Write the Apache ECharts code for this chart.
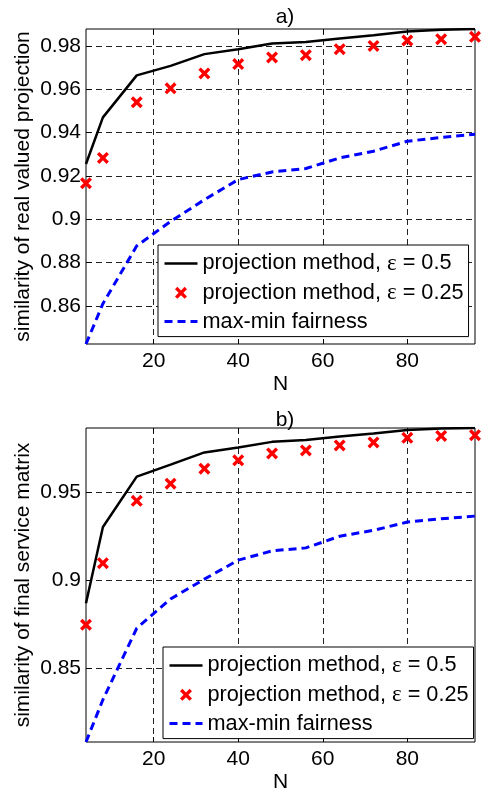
<!DOCTYPE html>
<html>
<head>
<meta charset="utf-8">
<script src="https://cdn.jsdelivr.net/npm/echarts@6/dist/echarts.min.js"></script>
<style>
  html, body { margin: 0; background: #fff; }
  #chart { width: 482px; height: 794px; }
</style>
</head>
<body>
<div id="chart"></div>
<script>
// N axis
var nValues = [4, 8, 16, 24, 32, 40, 48, 56, 64, 72, 80, 88, 96];
var xTicks = [20, 40, 60, 80];

// a) similarity of real valued projection
var projA05  = [0.9255, 0.9470, 0.9664, 0.9708, 0.9762, 0.9785, 0.9811, 0.9818, 0.9834, 0.9849, 0.9866, 0.9874, 0.9878];
var projA025 = [0.9166, 0.9283, 0.9540, 0.9604, 0.9673, 0.9716, 0.9747, 0.9757, 0.9785, 0.9800, 0.9825, 0.9831, 0.9842];
var fairA    = [0.8424, 0.8610, 0.8877, 0.8990, 0.9090, 0.9183, 0.9218, 0.9234, 0.9283, 0.9314, 0.9360, 0.9377, 0.9392];
var yTicksA  = [0.86, 0.88, 0.9, 0.92, 0.94, 0.96, 0.98];

// b) similarity of final service matrix
var projB05  = [0.8870, 0.9304, 0.9591, 0.9659, 0.9729, 0.9757, 0.9789, 0.9800, 0.9820, 0.9837, 0.9857, 0.9865, 0.9868];
var projB025 = [0.8747, 0.9098, 0.9453, 0.9551, 0.9636, 0.9684, 0.9723, 0.9740, 0.9769, 0.9786, 0.9812, 0.9823, 0.9827];
var fairB    = [0.8079, 0.8320, 0.8727, 0.8894, 0.9007, 0.9115, 0.9168, 0.9185, 0.9251, 0.9285, 0.9332, 0.9351, 0.9366];
var yTicksB  = [0.85, 0.9, 0.95];

var seriesNames = ['projection method, ε = 0.5', 'projection method, ε = 0.25', 'max-min fairness'];
var titles = ['a)', 'b)'];
var yNames = ['similarity of real valued projection', 'similarity of final service matrix'];

var FONT = 'Liberation Sans';
var FS = 21;
var crossPath = 'path://M0,2L2,0L5,3L8,0L10,2L7,5L10,8L8,10L5,7L2,10L0,8L3,5Z';

var myChart = echarts.init(document.getElementById('chart'));

function pairs(ys) {
  return nValues.map(function (n, i) { return [n, ys[i]]; });
}

var grids = [
  { left: 86, top: 29, width: 389, height: 315 },
  { left: 86, top: 428, width: 389, height: 316 }
];

var gridOpt = grids.map(function (g) {
  return { left: g.left, top: g.top, width: g.width, height: g.height,
    show: true, borderColor: '#000', borderWidth: 1, backgroundColor: '#fff' };
});

var xAxes = [], yAxes = [];
[yTicksA, yTicksB].forEach(function (yt, gi) {
  xAxes.push({
    type: 'value', gridIndex: gi, min: 4, max: 96,
    name: 'N', nameLocation: 'middle', nameGap: 30,
    nameTextStyle: { fontFamily: FONT, fontSize: FS, color: '#000' },
    axisLine: { show: false },
    axisTick: { inside: true, length: 5, customValues: xTicks, lineStyle: { color: '#000' } },
    axisLabel: { customValues: xTicks, margin: 7, fontFamily: FONT, fontSize: FS, color: '#000' },
    splitLine: { show: true, lineStyle: { color: '#222', type: [6, 4], width: 1 } }
  });
  xAxes.push({
    type: 'value', gridIndex: gi, min: 4, max: 96, position: 'top',
    axisLine: { show: false },
    axisTick: { inside: true, length: 5, customValues: xTicks, lineStyle: { color: '#000' } },
    axisLabel: { show: false }, splitLine: { show: false }
  });
  yAxes.push({
    type: 'value', gridIndex: gi, min: 'dataMin', max: 'dataMax',
    name: yNames[gi], nameLocation: 'middle', nameGap: 52, nameMoveOverlap: false,
    nameTextStyle: { fontFamily: FONT, fontSize: FS, color: '#000' },
    axisLine: { show: false },
    axisTick: { inside: true, length: 5, customValues: yt, lineStyle: { color: '#000' } },
    axisLabel: { customValues: yt, margin: 5, fontFamily: FONT, fontSize: FS, color: '#000' },
    splitLine: { show: true, lineStyle: { color: '#222', type: [6, 4], width: 1 } }
  });
  yAxes.push({
    type: 'value', gridIndex: gi, min: 'dataMin', max: 'dataMax', position: 'right',
    axisLine: { show: false },
    axisTick: { inside: true, length: 5, customValues: yt, lineStyle: { color: '#000' } },
    axisLabel: { show: false }, splitLine: { show: false }
  });
});

var series = [];
[[projA05, projA025, fairA], [projB05, projB025, fairB]].forEach(function (set, gi) {
  series.push({
    name: seriesNames[0], type: 'line', xAxisIndex: gi * 2, yAxisIndex: gi * 2,
    data: pairs(set[0]), symbol: 'none', z: 4,
    lineStyle: { color: '#000', width: 2.5 }, itemStyle: { color: '#000' }
  });
  series.push({
    name: seriesNames[1], type: 'scatter', xAxisIndex: gi * 2, yAxisIndex: gi * 2,
    data: pairs(set[1]), symbol: crossPath, symbolSize: 12, symbolKeepAspect: true, z: 5,
    itemStyle: { color: '#ff0000', opacity: 1 }
  });
  series.push({
    name: seriesNames[2], type: 'line', xAxisIndex: gi * 2, yAxisIndex: gi * 2,
    data: pairs(set[2]), symbol: 'none', z: 3,
    lineStyle: { color: '#0000ff', width: 3, type: [8, 5] }, itemStyle: { color: '#0000ff' }
  });
});

// line entries: hide the dot ECharts puts on the legend line
var legendData = [
  { name: seriesNames[0], itemStyle: { opacity: 0 } },
  { name: seriesNames[1] },
  { name: seriesNames[2], itemStyle: { opacity: 0 } }
];

var legendTops = [245, 647];
var legendLefts = [158, 163];
var legends = legendTops.map(function (t, i) {
  return {
    orient: 'vertical', left: legendLefts[i], top: t,
    data: legendData, selectedMode: false,
    backgroundColor: '#fff', borderColor: '#000', borderWidth: 1,
    padding: [7, 5, 4, 5], itemWidth: 33, itemHeight: 12, itemGap: 6.3,
    lineStyle: { width: 'inherit' },
    formatter: function (name) { return name.replace('ε', '{e|ε}'); },
    textStyle: {
      fontFamily: FONT, fontSize: 21.7, color: '#000', lineHeight: 22,
      rich: { e: { fontFamily: 'Liberation Serif', fontSize: 23, lineHeight: 22, color: '#000' } }
    }
  };
});

var titleOpt = titles.map(function (t, i) {
  return {
    text: t, left: 280, top: i === 0 ? 2 : 405, textAlign: 'center',
    textStyle: { fontFamily: FONT, fontSize: FS, fontWeight: 'normal', color: '#000' }
  };
});

myChart.setOption({
  animation: false,
  title: titleOpt,
  grid: gridOpt,
  xAxis: xAxes,
  yAxis: yAxes,
  legend: legends,
  series: series
});
</script>
</body>
</html>
